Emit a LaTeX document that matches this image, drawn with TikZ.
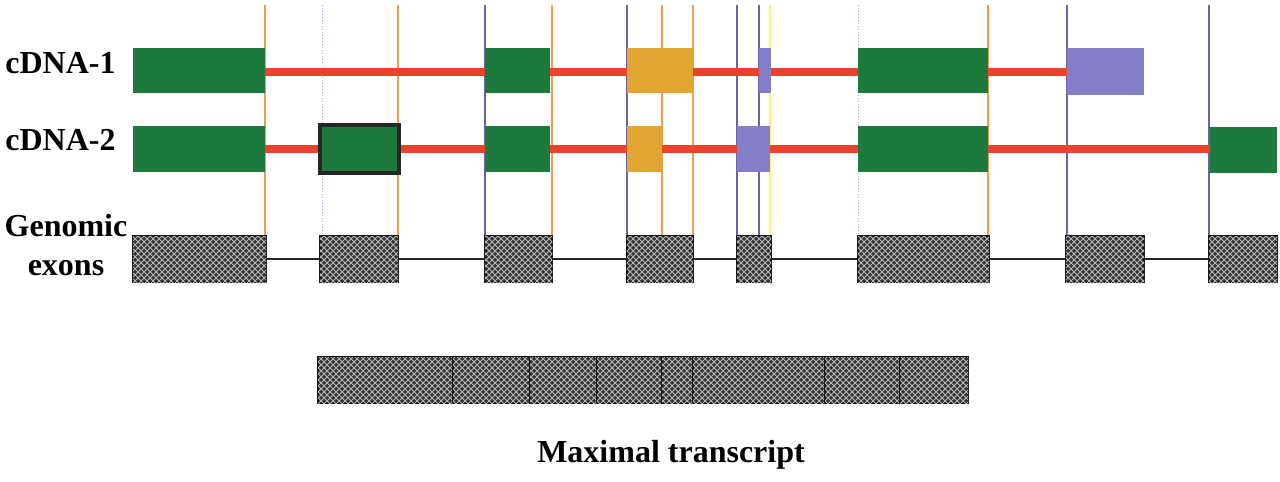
\documentclass[tikz,border=0pt]{standalone}
\usepackage{fontspec}
\setmainfont{Liberation Serif}
\usetikzlibrary{patterns}
\definecolor{exgreen}{RGB}{28,122,60}
\definecolor{exorange}{RGB}{226,165,52}
\definecolor{expurple}{RGB}{132,126,200}
\definecolor{exred}{RGB}{236,66,44}
\definecolor{vorange}{RGB}{232,160,80}
\definecolor{vpurple}{RGB}{110,96,170}
\definecolor{vblue}{RGB}{170,170,230}
\definecolor{vyellow}{RGB}{250,245,120}
\newcommand\exbox[6]{\node[#1, anchor=north west, minimum width={(#5-#3)*0.5pt}, minimum height={(#6-#4)*0.5pt}] (#2) at (#3,#4) {};}
\tikzset{
  bx/.style={inner sep=0pt, outer sep=0pt, rectangle},
  gbox/.style={bx, fill=exgreen},
  obox/.style={bx, fill=exorange},
  pbox/.style={bx, fill=expurple},
  hbox/.style={bx, fill=exgreen, draw=black!85, line width=1.6pt},
  genbox/.style={bx, fill=black!80, postaction={pattern=crosshatch, pattern color=gray!55}, draw=black!90, line width=1pt},
  mbox/.style={bx, fill=black!80, postaction={pattern=crosshatch, pattern color=gray!55}, draw=black!90, line width=0.9pt},
  intron/.style={exred, line width=3.8pt},
  gline/.style={black!85, line width=0.8pt},
  vo/.style={vorange, line width=0.6pt},
  vp/.style={vpurple, line width=0.6pt},
  vb/.style={vblue, line width=0.5pt, densely dotted},
  vy/.style={vyellow, line width=0.8pt},
  lab/.style={font=\bfseries\fontsize{16}{19.5}\selectfont, inner sep=0pt, align=center}
}
\begin{document}
\begin{tikzpicture}[x=0.5pt, y=-0.5pt]
\useasboundingbox (0,0) rectangle (1280,482);
% vertical guide lines
\foreach \xx/\st in {265/vo, 322/vb, 398/vo, 485/vp, 552/vo, 627/vp, 662/vo, 693/vo, 737/vp, 759/vp, 770/vy, 858/vb, 988/vo, 1067/vp, 1209/vp}{
  \coordinate (t\xx) at (\xx,5);
  \coordinate (b\xx) at (\xx,236);
  \draw[\st] (t\xx) -- (b\xx);
}
% labels
\node[lab, anchor=base west] (l1) at (5,73) {cDNA-1};
\node[lab, anchor=base west] (l2) at (5,150) {cDNA-2};
\node[lab, anchor=north] (l3) at (66,214) {Genomic\\exons};
\node[lab, anchor=base] (l4) at (671,462) {Maximal transcript};
% cDNA-1
\coordinate (r1s) at (265,72);
\coordinate (r1e) at (1067,72);
\draw[intron] (r1s) -- (r1e);
\exbox{gbox}{a1}{133}{48}{265}{93}
\exbox{gbox}{a2}{485}{48}{550}{93}
\exbox{obox}{a3}{627}{48}{693}{93}
\exbox{pbox}{a4}{759}{48}{771}{93}
\exbox{gbox}{a5}{858}{48}{988}{93}
\exbox{pbox}{a6}{1067}{48}{1144}{95}
% cDNA-2
\coordinate (r2s) at (265,149);
\coordinate (r2e) at (1210,149);
\draw[intron] (r2s) -- (r2e);
\exbox{gbox}{c1}{133}{126}{265}{172}
\exbox{hbox}{c2}{320}{125}{399}{173}
\exbox{gbox}{c3}{485}{126}{550}{172}
\exbox{obox}{c4}{627}{126}{662}{172}
\exbox{pbox}{c5}{737}{126}{770}{172}
\exbox{gbox}{c6}{858}{126}{988}{172}
\exbox{gbox}{c7}{1210}{127}{1277}{173}
% genomic exons
\exbox{genbox}{g1}{133}{236}{266}{282}
\exbox{genbox}{g2}{320}{236}{398}{282}
\exbox{genbox}{g3}{485}{236}{552}{282}
\exbox{genbox}{g4}{627}{236}{693}{282}
\exbox{genbox}{g5}{737}{236}{771}{282}
\exbox{genbox}{g6}{858}{236}{989}{282}
\exbox{genbox}{g7}{1066}{236}{1144}{282}
\exbox{genbox}{g8}{1209}{236}{1277}{282}
\foreach \p/\q in {g1/g2, g2/g3, g3/g4, g4/g5, g5/g6, g6/g7, g7/g8}{
  \draw[gline] (\p.east) -- (\q.west);
}
% maximal transcript
\exbox{mbox}{m1}{318}{357}{453}{403}
\exbox{mbox}{m2}{453}{357}{530}{403}
\exbox{mbox}{m3}{530}{357}{597}{403}
\exbox{mbox}{m4}{597}{357}{662}{403}
\exbox{mbox}{m5}{662}{357}{693}{403}
\exbox{mbox}{m6}{693}{357}{825}{403}
\exbox{mbox}{m7}{825}{357}{900}{403}
\exbox{mbox}{m8}{900}{357}{968}{403}
\end{tikzpicture}
\end{document}
